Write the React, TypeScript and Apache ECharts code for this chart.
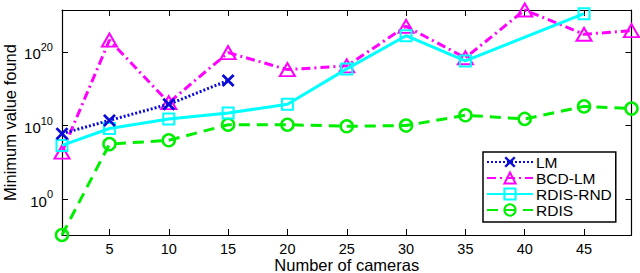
import React, { useEffect, useRef } from "react";
import * as echarts from "echarts";

// Number of cameras for each series
const lmCameras = [1, 5, 10, 15];
const bcdCameras = [1, 5, 10, 15, 20, 25, 30, 35, 40, 45, 49];
const rndCameras = [1, 5, 10, 15, 20, 25, 30, 35, 45];
const rdisCameras = [1, 5, 10, 15, 20, 25, 30, 35, 40, 45, 49];

// Minimum value found
const lmValues = [8e8, 5e10, 8e12, 1.3e16];
const bcdValues = [2.5e6, 4e21, 1.3e13, 8e19, 4e17, 1.3e18, 3e23, 1.6e19, 5e25, 2.5e22, 8e22];
const rndValues = [2e7, 4e9, 8e10, 5e11, 8e12, 5e17, 1.6e22, 6e18, 1.6e25];
const rdisValues = [1.35e-5, 3e7, 1e8, 1.3e10, 1.3e10, 8e9, 1e10, 2.5e11, 8e10, 4e12, 2e12];

// Axis settings
const xMin = 1;
const xMax = 49;
const xTicks = [5, 10, 15, 20, 25, 30, 35, 40, 45];
const yMin = 1.35e-5;
const yMax = 5e25;
const yTicks = [1, 1e10, 1e20];

const seriesNames = ["LM", "BCD-LM", "RDIS-RND", "RDIS"];

const FONT = "'Liberation Sans', Arial, Helvetica, sans-serif";
const X_PATH =
  "path://M0,1.5L1.5,0L5,3.5L8.5,0L10,1.5L6.5,5L10,8.5L8.5,10L5,6.5L1.5,10L0,8.5L3.5,5Z";

function pairs(xs: number[], ys: number[]) {
  return xs.map((x, i) => [x, ys[i]]);
}

export default function App() {
  const ref = useRef<HTMLDivElement>(null);
  useEffect(() => {
    if (!ref.current) return;
    const chart = echarts.init(ref.current, undefined, { renderer: "svg" });
    const expLabel = (v: number) => {
      const e = Math.round(Math.log10(v));
      return `{b|10}{s|${e}}`;
    };
    const grid = { left: 62, right: 8.5, top: 10, bottom: 38, containLabel: false, outerBoundsMode: "none" };
    chart.setOption({
      animation: false,
      backgroundColor: "#ffffff",
      textStyle: { fontFamily: FONT },
      grid,
      legend: {
        left: 483,
        top: 152,
        orient: "vertical",
        data: seriesNames,
        backgroundColor: "#ffffff",
        borderColor: "#000000",
        borderWidth: 1.5,
        borderRadius: 0,
        padding: [2, 4, 4, 3],
        itemGap: 0,
        itemWidth: 46,
        itemHeight: 14,
        textStyle: { fontFamily: FONT, fontSize: 15.5, color: "#000", padding: [0, 0, 0, -2] },
      },
      xAxis: [
        {
          type: "value",
          min: xMin,
          max: xMax,
          name: "Number of cameras",
          nameLocation: "middle",
          nameGap: 21,
          nameMoveOverlap: false,
          nameTextStyle: { fontFamily: FONT, fontSize: 16.5, color: "#000" },
          axisLine: { show: true, lineStyle: { color: "#000", width: 1.2 } },
          axisTick: { show: true, inside: true, length: 6, customValues: xTicks, lineStyle: { color: "#000" } },
          axisLabel: { customValues: xTicks, fontFamily: FONT, fontSize: 14.5, color: "#000", margin: 6 },
          splitLine: { show: false },
        },
        {
          type: "value",
          position: "top",
          min: xMin,
          max: xMax,
          axisLine: { show: true, lineStyle: { color: "#000", width: 1.2 } },
          axisTick: { show: true, inside: true, length: 6, customValues: xTicks, lineStyle: { color: "#000" } },
          axisLabel: { show: false },
          splitLine: { show: false },
        },
      ],
      yAxis: [
        {
          type: "log",
          logBase: 10,
          min: yMin,
          max: yMax,
          name: "Minimum value found",
          nameLocation: "middle",
          nameRotate: 90,
          nameGap: 44,
          nameMoveOverlap: false,
          nameTextStyle: { fontFamily: FONT, fontSize: 16.5, color: "#000" },
          axisLine: { show: true, lineStyle: { color: "#000", width: 1.2 } },
          axisTick: { show: true, inside: true, length: 6, customValues: yTicks, lineStyle: { color: "#000" } },
          axisLabel: {
            customValues: yTicks,
            formatter: expLabel,
            margin: 9,
            rich: {
              b: { fontFamily: FONT, fontSize: 15, color: "#000", padding: [4, 0, 0, 0] },
              s: { fontFamily: FONT, fontSize: 11, color: "#000", padding: [0, 0, 10, 0] },
            },
          },
          splitLine: { show: false },
        },
        {
          type: "log",
          logBase: 10,
          position: "right",
          min: yMin,
          max: yMax,
          axisLine: { show: true, lineStyle: { color: "#000", width: 1.2 } },
          axisTick: { show: true, inside: true, length: 6, customValues: yTicks, lineStyle: { color: "#000" } },
          axisLabel: { show: false },
          splitLine: { show: false },
        },
      ],
      series: [
        {
          name: "LM",
          type: "line",
          data: pairs(lmCameras, lmValues),
          z: 5,
          symbol: X_PATH,
          symbolSize: 13,
          lineStyle: { color: "#0a0ad8", width: 3, type: [2, 2] },
          itemStyle: { color: "#0a0ad8" },
        },
        {
          name: "BCD-LM",
          type: "line",
          data: pairs(bcdCameras, bcdValues),
          z: 3,
          symbol: "triangle",
          symbolSize: [15, 13],
          lineStyle: { color: "#ff00ff", width: 3, type: [9, 4, 2, 4] },
          itemStyle: { color: "rgba(255,255,255,0)", borderColor: "#ff00ff", borderWidth: 2 },
        },
        {
          name: "RDIS-RND",
          type: "line",
          data: pairs(rndCameras, rndValues),
          z: 4,
          symbol: "rect",
          symbolSize: 11,
          lineStyle: { color: "#00ffff", width: 3 },
          itemStyle: { color: "rgba(255,255,255,0)", borderColor: "#00ffff", borderWidth: 2 },
        },
        {
          name: "RDIS",
          type: "line",
          data: pairs(rdisCameras, rdisValues),
          z: 2,
          symbol: "circle",
          symbolSize: 12,
          lineStyle: { color: "#00ee00", width: 3, type: [11, 7] },
          itemStyle: { color: "rgba(255,255,255,0)", borderColor: "#00ee00", borderWidth: 2.5 },
        },
      ],
    });
    return () => chart.dispose();
  }, []);
  return (
    <div
      ref={ref}
      style={{ position: "fixed", left: 0, top: 0, width: 640, height: 273, background: "#fff" }}
    />
  );
}
